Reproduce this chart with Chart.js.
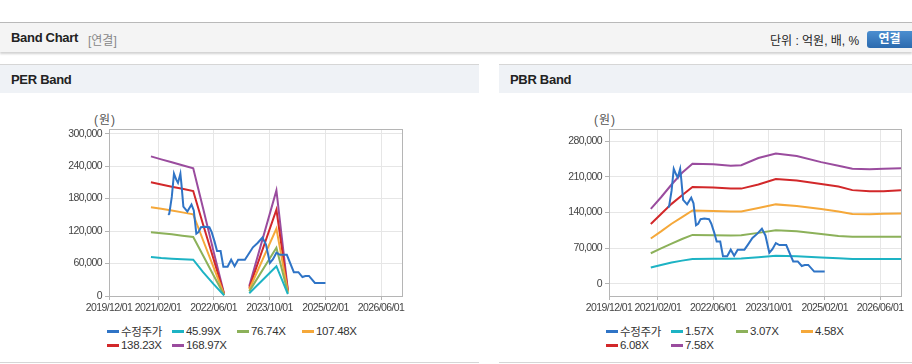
<!DOCTYPE html>
<html>
<head>
<meta charset="utf-8">
<script src="https://cdn.jsdelivr.net/npm/chart.js@4"></script>
<style>
  body { margin: 0; width: 912px; height: 364px; background: #fff; position: relative; overflow: hidden;
         font-family: "Liberation Sans", "Noto Sans CJK KR", sans-serif; color: #222; }
  .topbar { position: absolute; left: 0; top: 22px; width: 912px; height: 29px; background: #f4f4f4;
            border-top: 1px solid #b9b9b9; box-shadow: 0 2px 2px rgba(0,0,0,0.18); }
  .topbar .title { position: absolute; left: 11px; top: 7px; font-weight: bold; font-size: 13px; letter-spacing: -0.3px; }
  .topbar .sub { position: absolute; left: 88px; top: 8px; font-size: 12px; color: #888; }
  .topbar .unit { position: absolute; left: 770px; top: 8px; font-size: 12px; color: #222; }
  .topbar .btn { position: absolute; left: 867px; top: 8px; width: 45px; height: 17px; border-radius: 3px 0 0 3px;
                 background: linear-gradient(#4b8ed0, #2c6aae); color: #fff; font-weight: bold; font-size: 12px;
                 text-align: center; line-height: 17px; }
  .panel { position: absolute; top: 64px; height: 297px; border-top: 1px solid #d6d6d6; border-bottom: 1px solid #d6d6d6; background: #fff; }
  .panel .head { height: 28px; background: #eff2f6; font-weight: bold; font-size: 13px; line-height: 30px; padding-left: 11px; letter-spacing: -0.3px; }
  .unitlbl { position: absolute; top: 110px; font-size: 12px; color: #555; letter-spacing: 1px; }
  canvas { position: absolute; }
  .legend { position: absolute; top: 324px; width: 270px; display: flex; flex-wrap: wrap; font-size: 11.5px; color: #333; letter-spacing: -0.3px; }
  .legend .item { width: 65px; height: 14px; display: flex; align-items: center; white-space: nowrap; }
  .legend .sw { width: 12px; height: 3px; margin-right: 2px; }
</style>
</head>
<body>
<div class="topbar">
  <span class="title">Band Chart</span><span class="sub">[연결]</span>
  <span class="unit">단위 : 억원, 배, %</span><span class="btn">연결</span>
</div>
<div class="panel" style="left:0;width:479px;"><div class="head">PER Band</div></div>
<div class="panel" style="left:499px;width:413px;"><div class="head">PBR Band</div></div>
<div class="unitlbl" style="left:94px;">(원)</div>
<div class="unitlbl" style="left:594px;">(원)</div>
<canvas id="perChart" width="479" height="200" style="left:0;top:120px;"></canvas>
<canvas id="pbrChart" width="413" height="200" style="left:499px;top:120px;"></canvas>
<div class="legend" id="perLegend" style="left:107px;"></div>
<div class="legend" id="pbrLegend" style="left:606px;"></div>
<script>
// x axis
const xMin = '2019/12/01';
const xMax = '2026/12/01';
const xTickLabels = ['2019/12/01', '2021/02/01', '2022/06/01', '2023/10/01', '2025/02/01', '2026/06/01'];

// adjusted price (수정주가)
const priceDates = ['2021/05/01', '2021/05/10', '2021/06/01', '2021/06/20', '2021/07/10', '2021/07/25', '2021/08/15',
  '2021/08/25', '2021/09/10', '2021/10/15', '2021/11/20', '2021/12/10', '2022/01/01', '2022/01/20', '2022/02/10',
  '2022/03/15', '2022/04/25', '2022/05/15', '2022/06/10', '2022/07/01', '2022/08/01', '2022/08/25', '2022/10/01',
  '2022/11/01', '2022/12/01', '2023/01/01', '2023/03/01', '2023/04/01', '2023/05/10', '2023/06/20', '2023/08/01',
  '2023/09/01', '2023/10/05', '2023/11/01', '2023/12/01', '2024/01/01', '2024/03/01', '2024/05/01', '2024/06/10',
  '2024/07/15', '2024/08/10', '2024/09/10', '2024/11/01', '2025/02/01'];
const priceValues = [150000, 152000, 183000, 226000, 215000, 209000, 226000,
  205000, 165000, 156000, 169000, 158000, 115000, 118000, 127000,
  128000, 127000, 118000, 100000, 83000, 83000, 54000, 54000,
  67000, 55000, 67000, 67000, 77000, 90000, 98000, 108000,
  95000, 61000, 68000, 80000, 76000, 76000, 44000, 44000,
  35000, 37000, 37000, 24000, 24000];

// PER band
const perDates = ['2020/12/01', '2021/03/01', '2021/06/01', '2021/09/01', '2021/12/05', '2022/03/01', '2022/06/01',
  '2022/09/01', '2023/01/01', '2023/04/08', '2023/12/01', '2024/03/10'];
const per1 = [72000, 70000, 69000, 68000, 67000, 44000, 22000, 1000, null, 5000, 55000, 3500];
const per2 = [118000, 116000, 114000, 111500, 109000, 75000, 38000, 2000, null, 8500, 89000, 5500];
const per3 = [164000, 161000, 158000, 154500, 151000, 103000, 53000, 2500, null, 12000, 124500, 7500];
const per4 = [210000, 206000, 202000, 198000, 194000, 132000, 68000, 3000, null, 15000, 159500, 9500];
const per5 = [258000, 252500, 247000, 241500, 236000, 162000, 82000, 3500, null, 18500, 195000, 11000];
const perNames = ['45.99X', '76.74X', '107.48X', '138.23X', '168.97X'];
const perTicks = [0, 60000, 120000, 180000, 240000, 300000];

// PBR band
const pbrDates = ['2020/12/01', '2021/03/01', '2021/06/01', '2021/09/01', '2021/12/01', '2022/06/01', '2022/11/01',
  '2023/02/01', '2023/07/01', '2023/12/01', '2024/06/01', '2025/01/01', '2025/06/01', '2025/10/01', '2026/03/01',
  '2026/07/01', '2026/12/01'];
const pbr1 = [32000, 37000, 42000, 45500, 48500, 49000, 49000, 49500, 52000, 55000, 54000, 51500, 50000, 48500, 48500, 48500, 48500];
const pbr2 = [60000, 69500, 79000, 88000, 96000, 95500, 95000, 95500, 100000, 105000, 103000, 98000, 94000, 92500, 92500, 92500, 92500];
const pbr3 = [89000, 103000, 118000, 131000, 144000, 143000, 142000, 142000, 149000, 156000, 153000, 147000, 142000, 137000, 136500, 137500, 138000];
const pbr4 = [117500, 137000, 157000, 174000, 190000, 189000, 187000, 187000, 195000, 206000, 203000, 196000, 191000, 184000, 182000, 182000, 184000];
const pbr5 = [147000, 170000, 195000, 218000, 236000, 235000, 232000, 233000, 247000, 256000, 251000, 239000, 232000, 226000, 225000, 226000, 227000];
const pbrNames = ['1.57X', '3.07X', '4.58X', '6.08X', '7.58X'];
const pbrTicks = [0, 70000, 140000, 210000, 280000];

const colors = ['#2f74c6', '#1db3c4', '#8cb15a', '#f5a83a', '#d2282a', '#9a4c9e'];
const fontFamily = '"Liberation Sans", sans-serif';

const toX = s => { const [y, m, d] = s.split('/').map(Number); return Date.UTC(y, m - 1, d); };
const pts = (dates, vals) => dates.map((d, i) => ({ x: toX(d), y: vals[i] }));

// narrow tick text like the original, plus a grey box round the plot area
const tightText = chart => { chart.ctx.letterSpacing = '-0.6px'; };
const boxPlugin = {
  id: 'box',
  beforeUpdate: tightText,
  beforeLayout: tightText,
  beforeDraw: tightText,
  beforeDatasetsDraw(chart) {
    const a = chart.chartArea, ctx = chart.ctx;
    ctx.save();
    ctx.strokeStyle = '#b5b5b5';
    ctx.lineWidth = 1;
    ctx.strokeRect(Math.round(a.left) + 0.5, Math.round(a.top) + 0.5, Math.round(a.right - a.left), Math.round(a.bottom - a.top));
    ctx.restore();
  }
};

function makeChart(id, legendId, bandVals, bandNames, yTicks, yMin, yMax, yWidth, padRight) {
  const datasets = [{ label: '수정주가', data: pts(priceDates, priceValues) }];
  bandVals.forEach((v, i) => datasets.push({ label: bandNames[i], data: pts(bandVals.dates, v) }));
  datasets.forEach((ds, i) => {
    ds.borderColor = colors[i];
    ds.backgroundColor = colors[i];
    ds.borderWidth = 2;
    ds.pointRadius = 0;
    ds.fill = false;
    ds.spanGaps = false;
  });
  const chart = new Chart(document.getElementById(id), {
    type: 'line',
    data: { datasets },
    plugins: [boxPlugin],
    options: {
      responsive: false,
      animation: false,
      layout: { padding: { top: 9, left: 0, right: padRight, bottom: 0 } },
      plugins: { legend: { display: false }, tooltip: { enabled: false } },
      scales: {
        x: {
          type: 'linear', min: toX(xMin), max: toX(xMax),
          afterBuildTicks: s => { s.ticks = xTickLabels.map(t => ({ value: toX(t) })); },
          afterFit: s => { s.height = 24; },
          ticks: { autoSkip: false, maxRotation: 0, padding: 2, color: '#444',
                   font: { family: fontFamily, size: 10.5 }, callback: (v, i) => xTickLabels[i] },
          grid: { color: '#e6e6e6', tickLength: 4, tickColor: '#b5b5b5' },
          border: { display: false }
        },
        y: {
          min: yMin, max: yMax,
          afterBuildTicks: s => { s.ticks = yTicks.map(v => ({ value: v })); },
          afterFit: s => { s.width = yWidth; },
          ticks: { padding: 3, color: '#444', font: { family: fontFamily, size: 10.5 },
                   callback: v => v.toLocaleString('en-US') },
          grid: { color: '#e6e6e6', tickLength: 4, tickColor: '#b5b5b5' },
          border: { display: false }
        }
      }
    }
  });
  const legend = document.getElementById(legendId);
  chart.data.datasets.forEach(ds => {
    const item = document.createElement('div');
    item.className = 'item';
    item.innerHTML = '<span class="sw" style="background:' + ds.borderColor + '"></span>' + ds.label;
    legend.appendChild(item);
  });
  return chart;
}

const perBands = [per1, per2, per3, per4, per5];
perBands.dates = perDates;
const pbrBands = [pbr1, pbr2, pbr3, pbr4, pbr5];
pbrBands.dates = pbrDates;

makeChart('perChart', 'perLegend', perBands, perNames, perTicks, 0, 308000, 109, 77);
makeChart('pbrChart', 'pbrLegend', pbrBands, pbrNames, pbrTicks, -24000, 303500, 110, 11);
</script>
</body>
</html>
